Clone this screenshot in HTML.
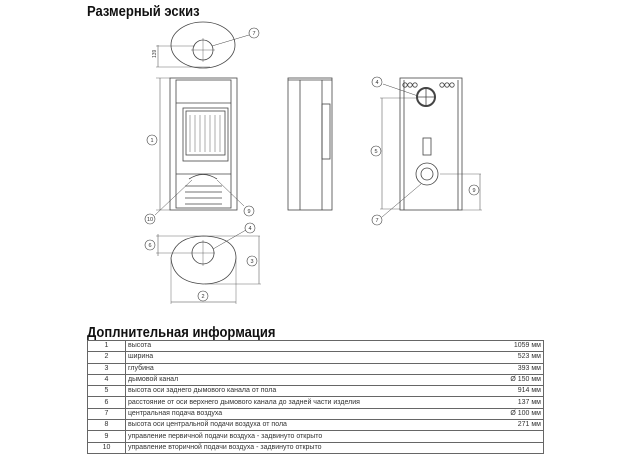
<!DOCTYPE html>
<html><head><meta charset="utf-8"><style>
body{margin:0;width:624px;height:460px;background:#fff;position:relative;overflow:hidden;font-family:"Liberation Sans","DejaVu Sans",sans-serif}
h1{position:absolute;margin:0;font:bold 13px "Liberation Sans",sans-serif;color:#111;left:87px;transform:scaleY(1.15);transform-origin:0 0}
table{position:absolute;left:87px;top:340px;width:457px;border-collapse:collapse;font-size:7px;color:#333}
td{border:1px solid #666;height:10.3px;padding:0 2px;line-height:10px}
td.n{width:33px;text-align:center}
td.v{text-align:right;border-left:none}
td.t{border-right:none}
</style></head><body>
<h1 style="top:2px">Размерный эскиз</h1>
<svg width="624" height="320" style="position:absolute;left:0;top:0" fill="none" stroke="#444" stroke-width="0.8" font-family="Liberation Sans" font-size="6">
<ellipse cx="203" cy="45" rx="32" ry="23"/>
<circle cx="203" cy="50" r="10"/>
<line x1="203" y1="38" x2="203" y2="62" stroke-width="0.4"/><line x1="191" y1="50" x2="215" y2="50" stroke-width="0.4"/>
<line x1="212" y1="46" x2="249" y2="35" stroke-width="0.5"/>
<line x1="158" y1="45" x2="158" y2="67" stroke-width="0.5"/><line x1="156" y1="46" x2="195" y2="46" stroke-width="0.4"/><line x1="156" y1="67" x2="210" y2="67" stroke-width="0.4"/>
<text x="154" y="60" fill="#444" stroke="none" font-size="5" transform="rotate(-90 154 58)">139</text>
<rect x="170" y="78" width="67" height="132"/>
<rect x="176" y="80" width="55" height="128"/>
<line x1="176" y1="103" x2="231" y2="103"/>
<rect x="183" y="108" width="45" height="53"/>
<rect x="186" y="111" width="39" height="44"/>
<line x1="190" y1="115" x2="190" y2="152" stroke="#999"/><line x1="195" y1="115" x2="195" y2="152" stroke="#999"/><line x1="200" y1="115" x2="200" y2="152" stroke="#999"/><line x1="205" y1="115" x2="205" y2="152" stroke="#999"/><line x1="210" y1="115" x2="210" y2="152" stroke="#999"/><line x1="215" y1="115" x2="215" y2="152" stroke="#999"/><line x1="220" y1="115" x2="220" y2="152" stroke="#999"/>
<line x1="176" y1="174" x2="231" y2="174"/>
<path d="M189 179 Q203 170 217 179"/>
<line x1="185" y1="186" x2="222" y2="186"/><line x1="185" y1="192" x2="222" y2="192"/><line x1="185" y1="198" x2="222" y2="198"/><line x1="185" y1="204" x2="222" y2="204"/>
<line x1="160" y1="78" x2="160" y2="210" stroke-width="0.5"/>
<line x1="156" y1="78" x2="170" y2="78" stroke-width="0.4"/><line x1="156" y1="210" x2="170" y2="210" stroke-width="0.4"/>
<line x1="155" y1="215" x2="192" y2="180" stroke-width="0.5"/><line x1="217" y1="180" x2="244" y2="206" stroke-width="0.5"/>
<rect x="288" y="78" width="44" height="132"/>
<line x1="300" y1="80" x2="300" y2="210"/><line x1="322" y1="80" x2="322" y2="210"/>
<rect x="322" y="104" width="8" height="55"/>
<line x1="288" y1="80" x2="332" y2="80"/>
<rect x="400" y="78" width="62" height="132"/>
<line x1="404" y1="80" x2="404" y2="210"/><line x1="458" y1="80" x2="458" y2="210"/>
<circle cx="426" cy="97" r="9" stroke-width="2"/>
<line x1="417" y1="97" x2="435" y2="97"/><line x1="426" y1="88" x2="426" y2="106"/>
<circle cx="405" cy="85" r="2.2"/><circle cx="410" cy="85" r="2.2"/><circle cx="415" cy="85" r="2.2"/><circle cx="442" cy="85" r="2.2"/><circle cx="447" cy="85" r="2.2"/><circle cx="452" cy="85" r="2.2"/>
<rect x="423" y="138" width="8" height="17"/>
<circle cx="427" cy="174" r="11"/><circle cx="427" cy="174" r="6"/>
<line x1="383" y1="84" x2="418" y2="96" stroke-width="0.5"/>
<line x1="382" y1="98" x2="382" y2="209" stroke-width="0.5"/>
<line x1="380" y1="98" x2="418" y2="98" stroke-width="0.4"/><line x1="380" y1="209" x2="400" y2="209" stroke-width="0.4"/>
<line x1="382" y1="217" x2="421" y2="184" stroke-width="0.5"/>
<line x1="440" y1="174" x2="481" y2="174" stroke-width="0.4"/><line x1="480" y1="174" x2="480" y2="210" stroke-width="0.5"/><line x1="462" y1="210" x2="482" y2="210" stroke-width="0.4"/>
<path d="M171 258 Q175 237 203 236 Q236 237 236 258 Q233 284 203 284 Q173 282 171 258Z"/>
<circle cx="203" cy="253" r="11"/>
<line x1="203" y1="240" x2="203" y2="266" stroke-width="0.4"/><line x1="156" y1="253" x2="215" y2="253" stroke-width="0.4"/>
<line x1="156" y1="236" x2="260" y2="236" stroke-width="0.4"/><line x1="158" y1="234" x2="158" y2="256" stroke-width="0.5"/>
<line x1="213" y1="249" x2="246" y2="230" stroke-width="0.5"/>
<line x1="259" y1="236" x2="259" y2="284" stroke-width="0.5"/><line x1="205" y1="284" x2="261" y2="284" stroke-width="0.4"/>
<line x1="171" y1="258" x2="171" y2="304" stroke-width="0.4"/><line x1="236" y1="258" x2="236" y2="304" stroke-width="0.4"/><line x1="171" y1="302" x2="236" y2="302" stroke-width="0.5"/>
<g stroke-width="0.6" fill="#fff">
<circle cx="254" cy="33" r="5"/><circle cx="152" cy="140" r="5"/><circle cx="150" cy="219" r="5"/><circle cx="249" cy="211" r="5"/>
<circle cx="377" cy="82" r="5"/><circle cx="376" cy="151" r="5"/><circle cx="377" cy="220" r="5"/><circle cx="474" cy="190" r="5"/>
<circle cx="250" cy="228" r="5"/><circle cx="150" cy="245" r="5"/><circle cx="252" cy="261" r="5"/><circle cx="203" cy="296" r="5"/>
</g>
<g fill="#333" stroke="none" text-anchor="middle" font-size="5.5">
<text x="254" y="35">7</text><text x="152" y="142">1</text><text x="150" y="221">10</text><text x="249" y="213">9</text>
<text x="377" y="84">4</text><text x="376" y="153">5</text><text x="377" y="222">7</text><text x="474" y="192">9</text>
<text x="250" y="230">4</text><text x="150" y="247">6</text><text x="252" y="263">3</text><text x="203" y="298">2</text>
</g>
</svg>
<h1 style="top:323px">Доплнительная информация</h1>
<table>
<tr><td class="n">1</td><td class="t">высота</td><td class="v">1059 мм</td></tr>
<tr><td class="n">2</td><td class="t">ширина</td><td class="v">523 мм</td></tr>
<tr><td class="n">3</td><td class="t">глубина</td><td class="v">393 мм</td></tr>
<tr><td class="n">4</td><td class="t">дымовой канал</td><td class="v">Ø 150 мм</td></tr>
<tr><td class="n">5</td><td class="t">высота оси заднего дымового канала от пола</td><td class="v">914 мм</td></tr>
<tr><td class="n">6</td><td class="t">расстояние от оси верхнего дымового канала до задней части изделия</td><td class="v">137 мм</td></tr>
<tr><td class="n">7</td><td class="t">центральная подача воздуха</td><td class="v">Ø 100 мм</td></tr>
<tr><td class="n">8</td><td class="t">высота оси центральной подачи воздуха от пола</td><td class="v">271 мм</td></tr>
<tr><td class="n">9</td><td class="t">управление первичной подачи воздуха - задвинуто открыто</td><td class="v"></td></tr>
<tr><td class="n">10</td><td class="t">управление вторичной подачи воздуха - задвинуто открыто</td><td class="v"></td></tr>
</table>
</body></html>
